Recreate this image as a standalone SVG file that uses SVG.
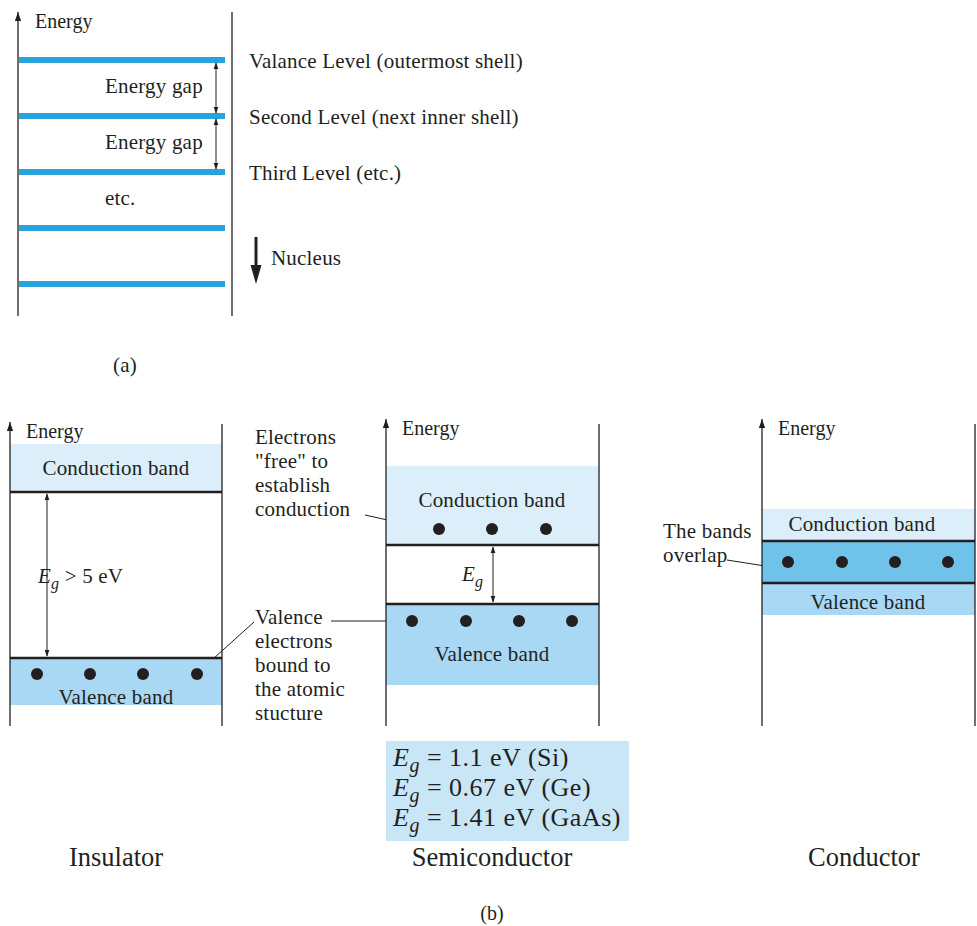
<svg xmlns="http://www.w3.org/2000/svg" width="977" height="926" viewBox="0 0 977 926" font-family="'Liberation Serif', 'DejaVu Serif', serif">
<defs>
<style>
text{font-family:'Liberation Serif','DejaVu Serif',serif;fill:#231f20;}
.t{font-size:20px;}
.m{font-size:21px;letter-spacing:0.2px;}
.b{font-size:26.5px;}
.e{font-size:26px;letter-spacing:0.5px;}
.ax{stroke:#231f20;stroke-width:1.3;fill:none;}
.lv{stroke:#29a3dc;stroke-width:6;}
.bl{stroke:#231f20;stroke-width:2.6;}
.ld{stroke:#231f20;stroke-width:1;fill:none;}
.dot{fill:#231f20;}
.i{font-style:italic;}
</style>
<marker id="ah" viewBox="0 0 10 10" refX="9" refY="5" markerWidth="7" markerHeight="7" orient="auto-start-reverse" markerUnits="userSpaceOnUse">
<path d="M0,1.5 L10,5 L0,8.5 Z" fill="#231f20"/>
</marker>
<marker id="ah2" viewBox="0 0 10 10" refX="10" refY="5" markerWidth="9" markerHeight="9" orient="auto-start-reverse" markerUnits="userSpaceOnUse">
<path d="M0,1.5 L10,5 L0,8.5 Z" fill="#231f20"/>
</marker>
</defs>
<rect width="977" height="926" fill="#ffffff"/>

<!-- (a) -->
<g id="atom-levels">
<line class="ax" x1="18" y1="316" x2="18" y2="12" marker-end="url(#ah2)"/>
<line class="ax" x1="232" y1="12" x2="232" y2="316"/>
<line class="lv" x1="19" y1="60" x2="225" y2="60"/>
<line class="lv" x1="19" y1="116" x2="225" y2="116"/>
<line class="lv" x1="19" y1="172" x2="225" y2="172"/>
<line class="lv" x1="19" y1="228" x2="225" y2="228"/>
<line class="lv" x1="19" y1="284" x2="225" y2="284"/>
<text class="t" x="35" y="28">Energy</text>
<text class="m" x="105" y="93">Energy gap</text>
<text class="m" x="105" y="149">Energy gap</text>
<text class="m" x="105" y="205">etc.</text>
<text class="m" x="249" y="68">Valance Level (outermost shell)</text>
<text class="m" x="249" y="124">Second Level (next inner shell)</text>
<text class="m" x="249" y="180">Third Level (etc.)</text>
<text class="m" x="271" y="265">Nucleus</text>
<text class="m" x="125" y="372" text-anchor="middle">(a)</text>
</g>
<g id="connectors">
<line class="ld" x1="216" y1="63" x2="216" y2="113" marker-start="url(#ah)" marker-end="url(#ah)"/>
<line class="ld" x1="216" y1="119" x2="216" y2="169" marker-start="url(#ah)" marker-end="url(#ah)"/>
<line x1="256" y1="237" x2="256" y2="268" stroke="#231f20" stroke-width="3"/>
<path d="M250.5,265 L261.5,265 L256,284 Z" fill="#231f20"/>
<line class="ld" x1="47" y1="494" x2="47" y2="656" marker-start="url(#ah)" marker-end="url(#ah)"/>
<line class="ld" x1="493" y1="547" x2="493" y2="602" marker-start="url(#ah)" marker-end="url(#ah)"/>
<line class="ld" x1="203" y1="668" x2="254" y2="622"/>
<line class="ld" x1="365" y1="515" x2="428" y2="529"/>
<line class="ld" x1="331" y1="621" x2="398" y2="621"/>
<line class="ld" x1="727" y1="560" x2="765" y2="566"/>
</g>

<!-- Insulator -->
<g id="insulator">
<rect x="10" y="444" width="212" height="48" fill="#dbeef9"/>
<rect x="10" y="658" width="212" height="47" fill="#a8d8f3"/>
<line class="bl" x1="10" y1="492" x2="222" y2="492"/>
<line class="bl" x1="10" y1="658" x2="222" y2="658"/>
<line class="ax" x1="10" y1="726" x2="10" y2="422" marker-end="url(#ah2)"/>
<line class="ax" x1="222" y1="424" x2="222" y2="726"/>
<circle class="dot" cx="37" cy="674" r="6"/>
<circle class="dot" cx="90" cy="674" r="6"/>
<circle class="dot" cx="143" cy="674" r="6"/>
<circle class="dot" cx="197" cy="674" r="6"/>
<text class="t" x="26" y="438">Energy</text>
<text class="m" x="116" y="475" text-anchor="middle">Conduction band</text>
<text class="m" x="116" y="704" text-anchor="middle">Valence band</text>
<text class="m" x="38" y="583"><tspan class="i">E</tspan><tspan class="i" font-size="16" dy="6">g</tspan><tspan dy="-6"> &gt; 5 eV</tspan></text>
<text class="b" x="116" y="866" text-anchor="middle">Insulator</text>
</g>

<!-- Semiconductor -->
<g id="semiconductor">
<rect x="386" y="466" width="213" height="79" fill="#dbeef9"/>
<rect x="386" y="604" width="213" height="81" fill="#a8d8f3"/>
<line class="bl" x1="386" y1="545" x2="599" y2="545"/>
<line class="bl" x1="386" y1="604" x2="599" y2="604"/>
<line class="ax" x1="386" y1="726" x2="386" y2="419" marker-end="url(#ah2)"/>
<line class="ax" x1="599" y1="424" x2="599" y2="726"/>
<circle class="dot" cx="439" cy="529" r="6"/>
<circle class="dot" cx="492" cy="529" r="6"/>
<circle class="dot" cx="546" cy="529" r="6"/>
<circle class="dot" cx="412" cy="621" r="6"/>
<circle class="dot" cx="466" cy="621" r="6"/>
<circle class="dot" cx="519" cy="621" r="6"/>
<circle class="dot" cx="572" cy="621" r="6"/>
<text class="t" x="402" y="435">Energy</text>
<text class="m" x="492" y="507" text-anchor="middle">Conduction band</text>
<text class="m" x="492" y="661" text-anchor="middle">Valence band</text>
<text class="m" x="462" y="581"><tspan class="i">E</tspan><tspan class="i" font-size="16" dy="6">g</tspan></text>
<text class="m" x="255" y="444">Electrons</text>
<text class="m" x="255" y="468">"free" to</text>
<text class="m" x="255" y="492">establish</text>
<text class="m" x="255" y="516">conduction</text>
<text class="m" x="255" y="624">Valence</text>
<text class="m" x="255" y="648">electrons</text>
<text class="m" x="255" y="672">bound to</text>
<text class="m" x="255" y="696">the atomic</text>
<text class="m" x="255" y="720">stucture</text>
<rect x="386" y="741" width="243" height="100" fill="#c9e6f6"/>
<text class="e" x="393" y="766"><tspan class="i">E</tspan><tspan class="i" font-size="20" dy="6">g</tspan><tspan dy="-6"> = 1.1 eV (Si)</tspan></text>
<text class="e" x="393" y="796"><tspan class="i">E</tspan><tspan class="i" font-size="20" dy="6">g</tspan><tspan dy="-6"> = 0.67 eV (Ge)</tspan></text>
<text class="e" x="393" y="826"><tspan class="i">E</tspan><tspan class="i" font-size="20" dy="6">g</tspan><tspan dy="-6"> = 1.41 eV (GaAs)</tspan></text>
<text class="b" x="492" y="866" text-anchor="middle">Semiconductor</text>
<text class="t" x="492" y="920" text-anchor="middle">(b)</text>
</g>

<!-- Conductor -->
<g id="conductor">
<rect x="762" y="509" width="213" height="32" fill="#dbeef9"/>
<rect x="762" y="541" width="213" height="42" fill="#6fc3ea"/>
<rect x="762" y="583" width="213" height="32" fill="#a8d8f3"/>
<line class="bl" x1="762" y1="541" x2="975" y2="541"/>
<line class="bl" x1="762" y1="583" x2="975" y2="583"/>
<line class="ax" x1="762" y1="726" x2="762" y2="419" marker-end="url(#ah2)"/>
<line class="ax" x1="975" y1="424" x2="975" y2="726"/>
<circle class="dot" cx="788" cy="562" r="6"/>
<circle class="dot" cx="842" cy="562" r="6"/>
<circle class="dot" cx="895" cy="562" r="6"/>
<circle class="dot" cx="948" cy="562" r="6"/>
<text class="t" x="778" y="435">Energy</text>
<text class="m" x="862" y="531" text-anchor="middle">Conduction band</text>
<text class="m" x="868" y="609" text-anchor="middle">Valence band</text>
<text class="m" x="663" y="538">The bands</text>
<text class="m" x="663" y="562">overlap</text>
<text class="b" x="864" y="866" text-anchor="middle">Conductor</text>
</g>
</svg>
